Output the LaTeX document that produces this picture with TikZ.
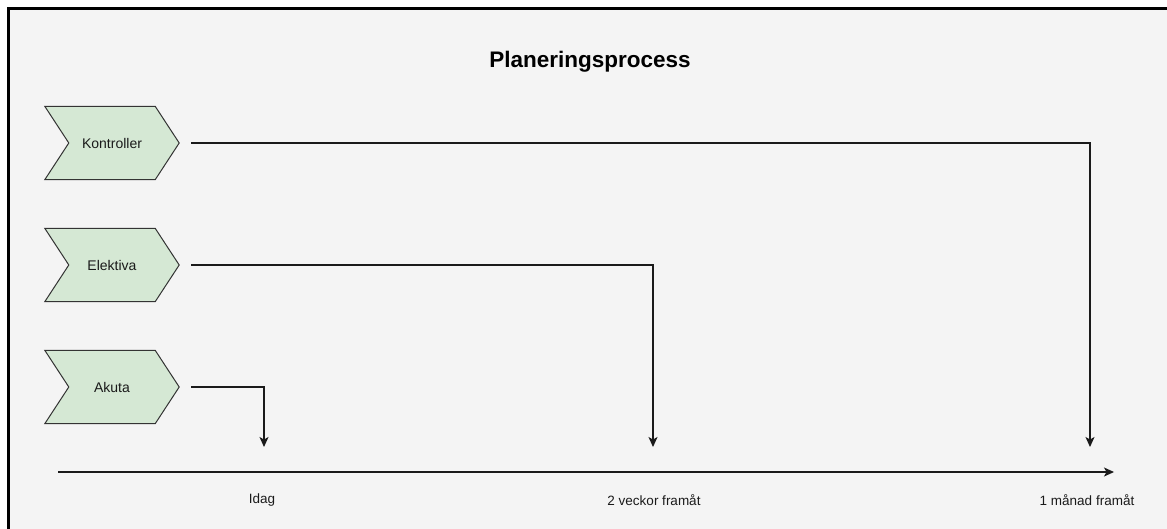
\documentclass[tikz,border=0pt]{standalone}
\usepackage{fontspec}
\setmainfont{Liberation Sans}
\usetikzlibrary{arrows.meta,calc}
\pgfdeclarelayer{background}
\pgfdeclarelayer{canvas}
\pgfsetlayers{canvas,background,main}
\definecolor{bggray}{HTML}{F4F4F4}
\definecolor{stepfill}{HTML}{D5E8D4}
\definecolor{stepline}{HTML}{333333}
\definecolor{ink}{HTML}{1A1A1A}
\tikzset{
  stepbox/.style={minimum width=134pt, minimum height=73pt, inner sep=0pt, font=\fontsize{14}{16}\selectfont, text=ink},
  chev/.style={fill=stepfill, draw=stepline, line width=1pt, line join=miter},
  conn/.style={draw=ink, line width=1.2pt, -{Stealth[length=10pt,width=9pt,inset=2.5pt]}},
  lbl/.style={font=\fontsize{13.5}{16}\selectfont, text=ink, inner sep=0pt},
}
\begin{document}
\begin{tikzpicture}[x=1pt,y=-1pt]
\useasboundingbox (0,0) rectangle (1167,529);
\begin{pgfonlayer}{canvas}
\fill[white] (0,0) rectangle (1167,529);
\draw[fill=bggray, draw=black, line width=3pt] (8.5,8.5) rectangle (1185,545);
\end{pgfonlayer}

\node[font=\bfseries\fontsize{22.5}{26}\selectfont, text=black] (title) at (590,62) {Planeringsprocess};

\node[stepbox] (k) at (112,143) {Kontroller};
\node[stepbox] (e) at (112,265) {Elektiva};
\node[stepbox] (a) at (112,387) {Akuta};

\begin{pgfonlayer}{background}
\foreach \n in {k,e,a}{
  \draw[chev] (\n.north west) -- ($(\n.north east)+(-24,0)$) -- (\n.east) -- ($(\n.south east)+(-24,0)$) -- (\n.south west) -- ($(\n.west)+(24,0)$) -- cycle;
}
\end{pgfonlayer}

\coordinate (tstart) at (58,472);
\coordinate (tend) at (1114,472);
\coordinate (pk) at (1090,447);
\coordinate (pe) at (653,447);
\coordinate (pa) at (264,447);

\node[lbl] (l1) at (262,500) {Idag};
\node[lbl] (l2) at (654,500) {2 veckor framåt};
\node[lbl] (l3) at (1087,500) {1 månad framåt};

\draw[conn] ([xshift=12pt]k.east) -| (pk);
\draw[conn] ([xshift=12pt]e.east) -| (pe);
\draw[conn] ([xshift=12pt]a.east) -| (pa);
\draw[conn] (tstart) -- (tend);
\end{tikzpicture}
\end{document}
